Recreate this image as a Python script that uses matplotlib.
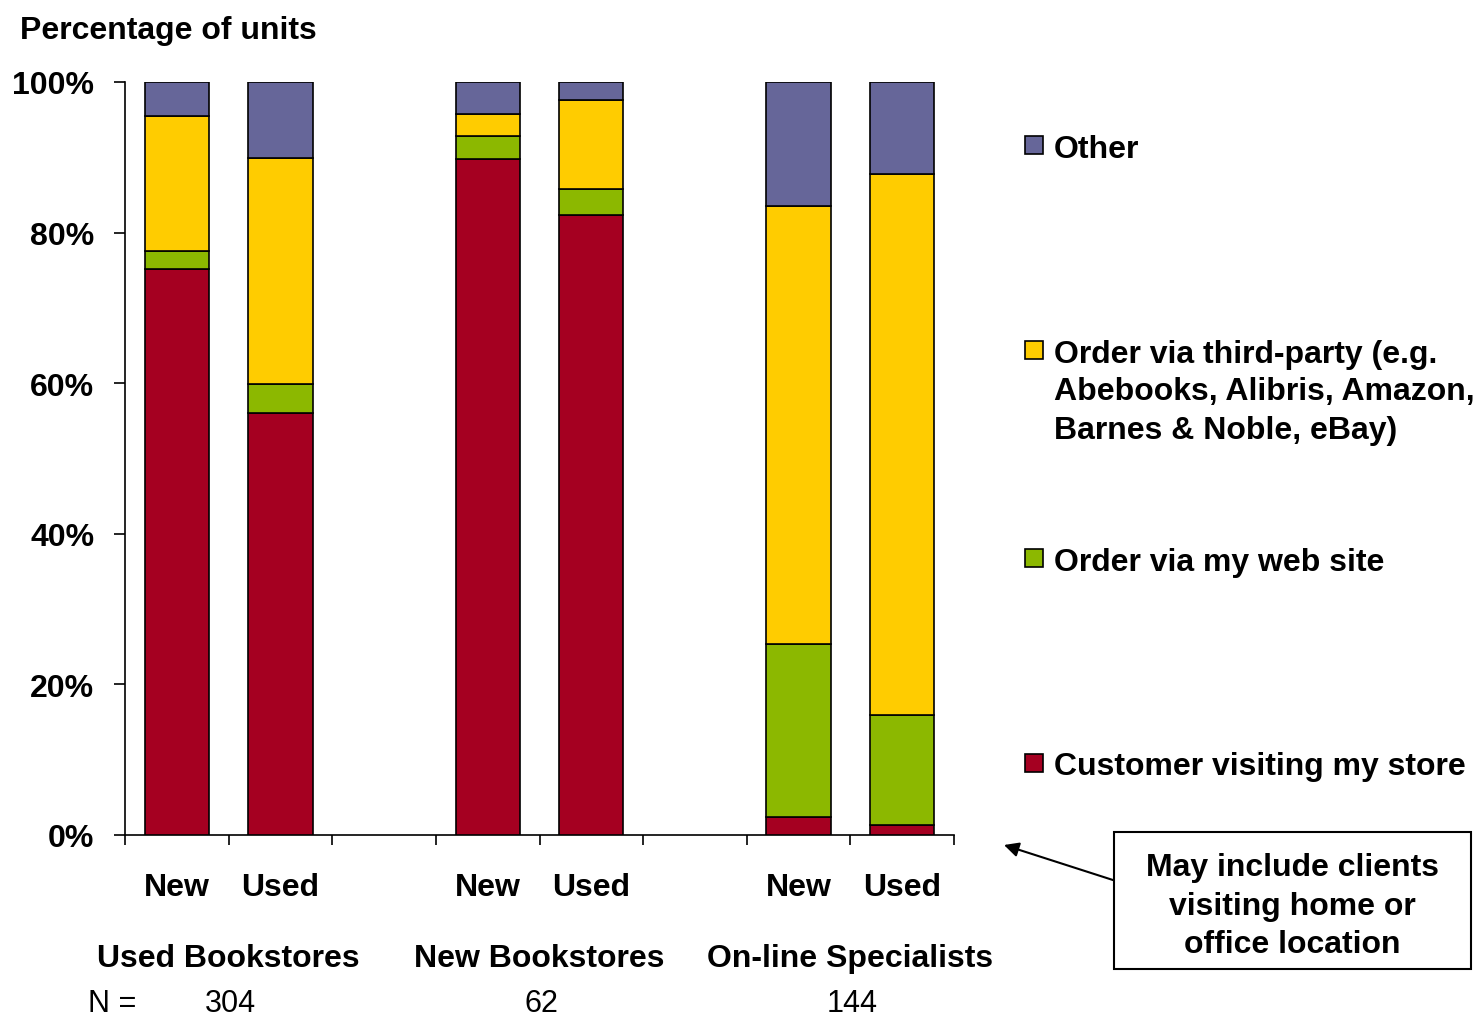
import matplotlib
matplotlib.use("Agg")
import matplotlib.pyplot as plt
from matplotlib.patches import Rectangle
import numpy as np

plt.rcParams['font.family'] = ['Liberation Sans', 'DejaVu Sans']

# ---- data ----
groups = ["Used Bookstores", "New Bookstores", "On-line Specialists"]
group_n = ["304", "62", "144"]
bar_labels = ["New", "Used", "New", "Used", "New", "Used"]
series_names = ["Customer visiting my store", "Order via my web site",
                "Order via third-party (e.g.\nAbebooks, Alibris, Amazon,\nBarnes & Noble, eBay)",
                "Other"]
customer = [75.2, 56.0, 89.8, 82.3, 2.4, 1.3]
website = [2.4, 3.9, 3.0, 3.5, 23.0, 14.6]
thirdparty = [17.9, 30.0, 3.0, 11.8, 58.1, 71.9]
other = [4.5, 10.1, 4.2, 2.4, 16.5, 12.2]
colors = ["#A50021", "#8CB800", "#FFCC00", "#666699"]
y_ticks = [0, 20, 40, 60, 80, 100]
y_ticklabels = ["0%", "20%", "40%", "60%", "80%", "100%"]
note_text = "May include clients\nvisiting home or\noffice location"

W, H = 1476, 1020
fig = plt.figure(figsize=(W / 100, H / 100), dpi=100)
ax = fig.add_axes([125 / W, 1 - 836 / H, 829 / W, 753 / H])

pos = np.array([0, 1, 3, 4, 6, 7])
bottom = np.zeros(len(pos))
for vals, col in zip([customer, website, thirdparty, other], colors):
    ax.bar(pos, vals, width=0.62, bottom=bottom, color=col,
           edgecolor="black", linewidth=1.2, zorder=3)
    bottom += np.array(vals)

ax.set_xlim(-0.5, 7.5)
ax.set_ylim(0, 100)
for s in ["top", "right"]:
    ax.spines[s].set_visible(False)
for s in ["left", "bottom"]:
    ax.spines[s].set_linewidth(1.2)

ax.set_yticks(y_ticks)
ax.set_yticklabels(y_ticklabels, fontsize=23, fontweight="bold")
ax.tick_params(axis="y", direction="out", length=8, width=1.2, pad=14)

ax.set_xticks(np.arange(-0.5, 8.0, 1.0))
ax.set_xticklabels([])
ax.tick_params(axis="x", which="major", direction="out", length=7.5, width=1.2)
ax.set_xticks(pos, minor=True)
ax.set_xticklabels(bar_labels, minor=True, fontsize=23, fontweight="bold")
ax.tick_params(axis="x", which="minor", length=0, pad=26.5)


def ftext(x, y, s, cap=11.5, **kw):
    """Place text with its cap-height centre at pixel (x, y)."""
    return fig.text(x / W, 1 - (y + cap) / H, s, va="baseline", **kw)


# title
ftext(20, 27, "Percentage of units", fontsize=23, fontweight="bold", ha="left")

# group labels
for g, cx in zip(groups, [0.5, 3.5, 6.5]):
    xp = ax.transData.transform((cx, 0))[0]
    ftext(xp, 956, g, fontsize=23, fontweight="bold", ha="center")
ftext(88, 1001, "N =", cap=11, fontsize=22, ha="left")
for n, cx in zip(group_n, [0.5, 3.5, 6.5]):
    xp = ax.transData.transform((cx, 0))[0]
    ftext(xp + 2, 1001, n, cap=11, fontsize=22, ha="center")

# legend (manual)
leg_items = [(3, 146), (2, 351), (1, 559), (0, 764)]
for idx, yc in leg_items:
    fig.patches.append(Rectangle((1025 / W, 1 - (yc + 9) / H), 18 / W, 18 / H,
                                 transform=fig.transFigure, facecolor=colors[idx],
                                 edgecolor="black", linewidth=1.2))
    for i, line in enumerate(series_names[idx].split("\n")):
        ftext(1054, yc + i * 38, line, fontsize=23, fontweight="bold", ha="left")

# note box
fig.patches.append(Rectangle((1114 / W, 1 - 970 / H), 357 / W, 137 / H,
                             transform=fig.transFigure, facecolor="white",
                             edgecolor="black", linewidth=1.5))
for i, line in enumerate(note_text.split("\n")):
    ftext(1292, 865 + i * 38.5, line, fontsize=23, fontweight="bold", ha="center")
ax.annotate("", xy=(1004 / W, 1 - 846 / H), xycoords="figure fraction",
            xytext=(1116 / W, 1 - 882 / H), textcoords="figure fraction",
            arrowprops=dict(arrowstyle="-|>", color="black", lw=1.5,
                            mutation_scale=22, shrinkA=0, shrinkB=0),
            annotation_clip=False)

fig.savefig("out.png", dpi=100)
